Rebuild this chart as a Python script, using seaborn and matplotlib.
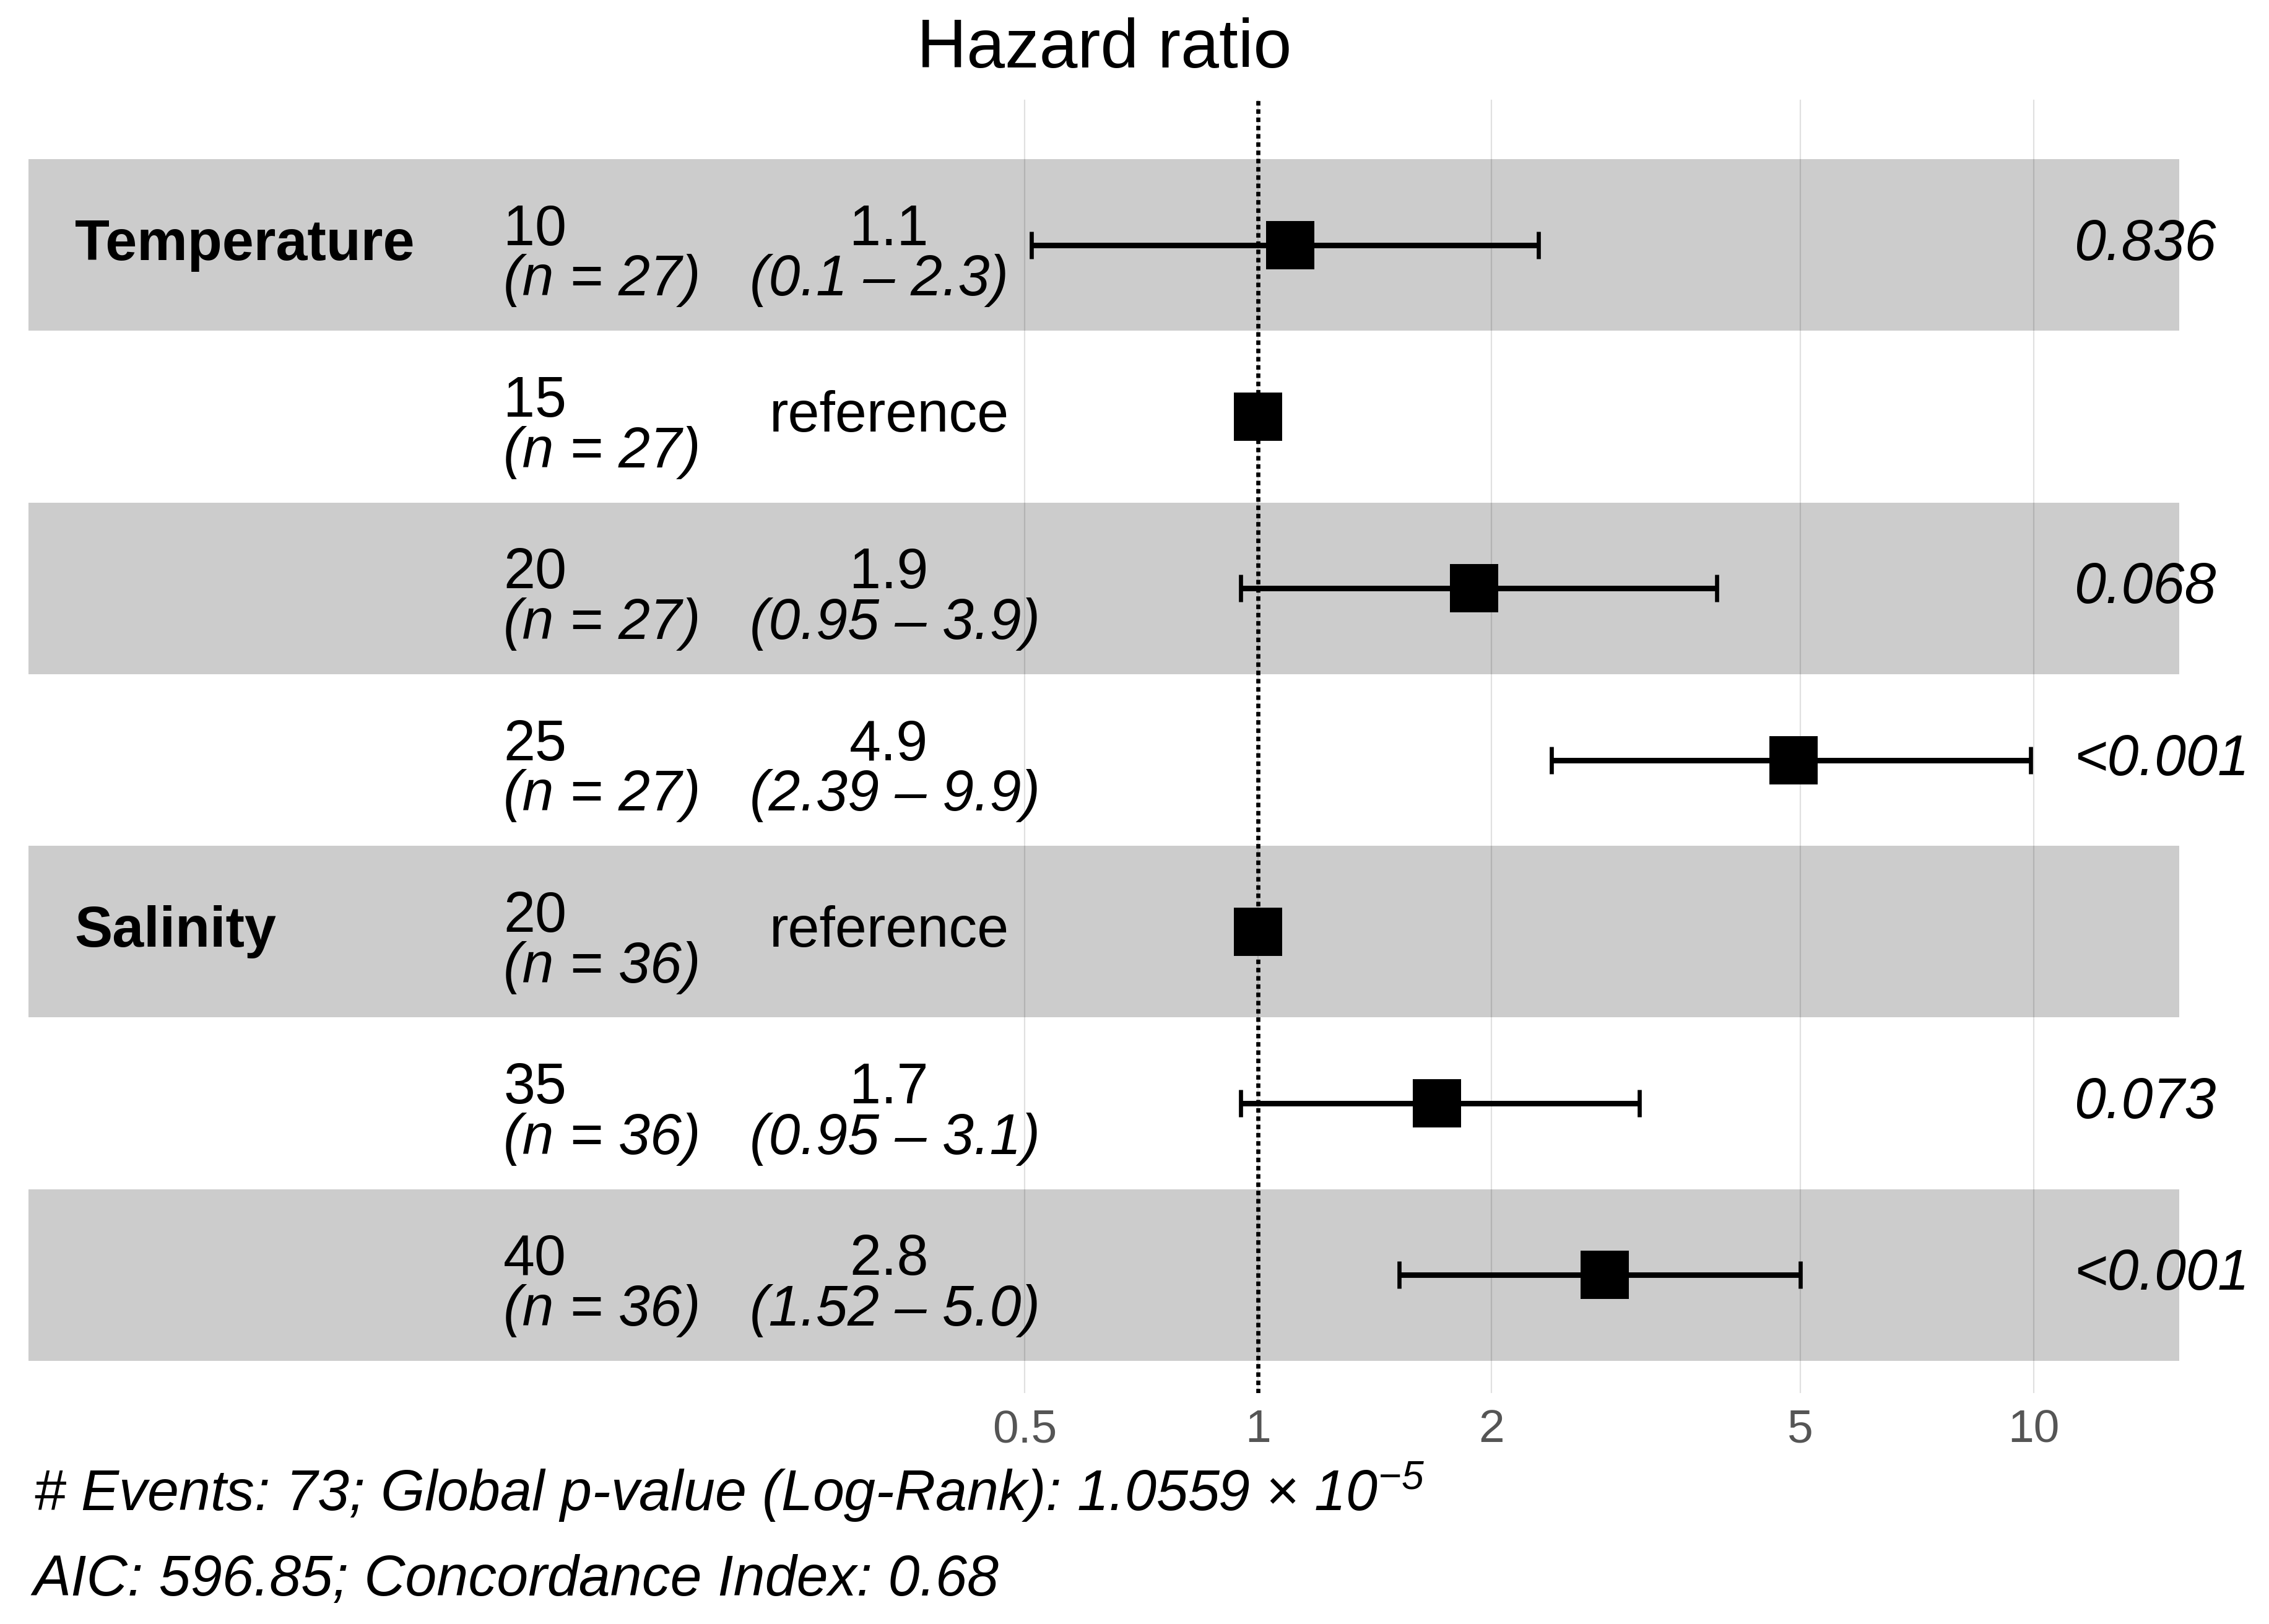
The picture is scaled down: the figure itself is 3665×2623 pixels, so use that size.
import numpy as np
import pandas as pd
import seaborn as sns
import matplotlib.pyplot as plt
from matplotlib.ticker import NullLocator

variables = ["Temperature", "", "", "", "Salinity", "", ""]
levels = ["10", "15", "20", "25", "20", "35", "40"]
n_obs = [27, 27, 27, 27, 36, 36, 36]
hr = [1.1, 1.0, 1.9, 4.9, 1.0, 1.7, 2.8]
ci_low = [0.51, np.nan, 0.95, 2.39, np.nan, 0.95, 1.52]
ci_high = [2.3, np.nan, 3.9, 9.9, np.nan, 3.1, 5.0]
hr_labels = ["1.1", "reference", "1.9", "4.9", "reference", "1.7", "2.8"]
ci_labels = ["(0.1 \u2013 2.3)", "", "(0.95 \u2013 3.9)", "(2.39 \u2013 9.9)", "",
             "(0.95 \u2013 3.1)", "(1.52 \u2013 5.0)"]
p_values = ["0.836", "", "0.068", "<0.001", "", "0.073", "<0.001"]
x_breaks = [0.5, 1, 2, 5, 10]
x_break_labels = ["0.5", "1", "2", "5", "10"]
footer1 = "# Events: 73; Global p-value (Log-Rank): 1.0559 \u00d7 $10^{-5}$"
footer2 = "AIC: 596.85; Concordance Index: 0.68"

df = pd.DataFrame({"row": np.arange(len(hr)), "hr": hr,
                   "low": ci_low, "high": ci_high})

sns.set_theme(style="white")
plt.rcParams['font.family'] = ['Liberation Sans', 'DejaVu Sans']
plt.rcParams['text.color'] = 'black'
plt.rcParams['mathtext.fontset'] = 'custom'
plt.rcParams['mathtext.rm'] = 'Liberation Sans:italic'
plt.rcParams['mathtext.it'] = 'Liberation Sans:italic'

fig = plt.figure(figsize=(18.33, 13.115), dpi=200)
ax = fig.add_axes([0.01255, 0.1422, 0.9602 - 0.01255, 0.9386 - 0.1422])

# alternating bands
for i in range(0, len(hr), 2):
    ax.axhspan(i - 0.5, i + 0.5, color="#cccccc", zorder=0.3, lw=0)

ax.axvline(1, color="black", lw=2.4, linestyle=(0, (1.1, 0.9)), zorder=2)

ok = df.dropna()
ax.errorbar(ok["hr"], ok["row"], xerr=[ok["hr"] - ok["low"], ok["high"] - ok["hr"]],
            fmt="none", ecolor="black", elinewidth=3.2, capsize=8, capthick=2.4, zorder=2.5)
sns.scatterplot(data=df, x="hr", y="row", marker="s", s=780, color="black",
                linewidth=0, ax=ax, zorder=3, legend=False)

ax.set_xscale("log")
ax.set_xlim(0.0260, 15.40)
ax.set_ylim(6.6875, -0.846)
ax.set_xticks(x_breaks)
ax.set_xticklabels(x_break_labels)
ax.xaxis.set_minor_locator(NullLocator())
ax.set_yticks([])
ax.set_xlabel("")
ax.set_ylabel("")
ax.tick_params(axis="x", length=0, pad=9, labelsize=27, labelcolor="#555555")
ax.set_axisbelow(True)
ax.grid(axis="x", which="major", color="black", alpha=0.12, lw=0.8)
for s in ax.spines.values():
    s.set_visible(False)

tr = ax.get_yaxis_transform()
fs = 33
for i in range(len(hr)):
    if variables[i]:
        ax.text(0.0215, i, variables[i], transform=tr, ha="left", va="center",
                fontsize=fs, fontweight="bold")
    ax.text(0.2208, i, levels[i], transform=tr, ha="left", va="baseline", fontsize=fs)
    ax.text(0.2208, i + 0.295, "(n = %d)" % n_obs[i], transform=tr, ha="left",
            va="baseline", fontsize=fs, style="italic")
    if hr_labels[i] == "reference":
        ax.text(0.4001, i, hr_labels[i], transform=tr, ha="center", va="center", fontsize=fs)
    else:
        ax.text(0.4001, i, hr_labels[i], transform=tr, ha="center", va="baseline", fontsize=fs)
        ax.text(0.3354, i + 0.295, ci_labels[i], transform=tr, ha="left",
                va="baseline", fontsize=fs, style="italic")
    if p_values[i]:
        ax.text(0.951, i, p_values[i], transform=tr, ha="left", va="center",
                fontsize=fs, style="italic")

fig.text(0.4864, 0.9584, "Hazard ratio", ha="center", va="baseline", fontsize=40)
fig.text(0.0147, 0.0700, footer1, ha="left", va="baseline", fontsize=33, style="italic")
fig.text(0.0147, 0.0175, footer2, ha="left", va="baseline", fontsize=33, style="italic")

fig.savefig("out.png", dpi=200)
